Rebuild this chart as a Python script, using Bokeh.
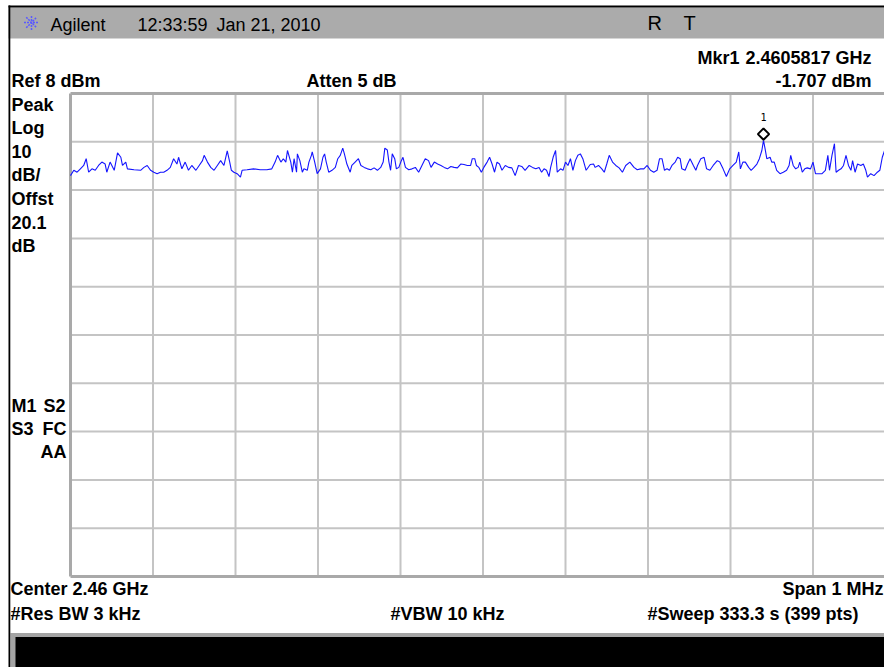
from bokeh.plotting import figure
from bokeh.models import Range1d
from bokeh.embed import file_html
from bokeh.resources import INLINE
from bokeh.core.properties import value

# ---------------- data ----------------
center_mhz = 2460.0
span_mhz = 1.0
ref_dbm = 8.0
db_per_div = 10.0
n_div = 10

# trace: frequency offset from sweep start (kHz) and level (dBm)
trace_khz = [
    0, 4, 8, 12, 16, 19, 22, 26, 30, 34, 38, 42, 44, 48, 53, 57, 61, 63, 67, 69,
    77, 85, 89, 93, 97, 101, 105, 109, 113, 117, 121, 125, 129, 131, 135, 139, 143, 147, 152, 156,
    160, 162, 166, 170, 174, 178, 182, 186, 190, 193, 195, 198, 202, 206, 208, 214, 222, 230, 238, 244,
    248, 251, 255, 258, 261, 263, 267, 269, 271, 274, 275, 278, 281, 283, 287, 289, 292, 293, 296, 299,
    303, 306, 308, 310, 313, 317, 321, 324, 327, 330, 332, 335, 339, 341, 345, 349, 352, 356, 360, 364,
    368, 372, 376, 379, 381, 384, 386, 388, 390, 393, 395, 398, 401, 403, 406, 410, 414, 418, 422, 426,
    430, 434, 437, 441, 445, 449, 453, 457, 461, 465, 469, 473, 477, 481, 485, 487, 490, 492, 495, 498,
    501, 505, 508, 511, 514, 517, 520, 523, 527, 531, 535, 539, 543, 547, 551, 556, 560, 564, 568, 571,
    574, 577, 580, 582, 585, 588, 590, 594, 597, 600, 603, 606, 609, 612, 615, 618, 621, 625, 630, 634,
    636, 640, 644, 647, 650, 653, 657, 661, 665, 669, 673, 678, 683, 687, 691, 695, 699, 703, 707, 711,
    714, 717, 720, 723, 726, 729, 733, 736, 739, 741, 745, 748, 751, 755, 758, 760, 764, 768, 771, 775,
    779, 784, 787, 791, 795, 799, 803, 807, 810, 812, 815, 818, 822, 825, 828, 832, 835, 838, 840, 842,
    844, 848, 850, 853, 856, 860, 864, 868, 871, 873, 876, 879, 882, 884, 887, 890, 893, 897, 900, 903,
    907, 911, 915, 918, 920, 923, 926, 928, 931, 934, 937, 940, 943, 946, 948, 951, 954, 958, 961, 964,
    966, 970, 974, 978, 981, 984, 987,
]
trace_dbm = [
    -9.0, -7.9, -8.3, -7.6, -6.9, -5.5, -8.3, -7.6, -7.9, -6.9, -6.2, -6.6, -8.3, -6.2, -7.9, -4.3, -5.2, -6.9, -6.2, -7.6,
    -7.8, -7.9, -7.3, -6.9, -7.9, -8.3, -8.6, -8.3, -8.3, -7.9, -7.3, -5.5, -6.6, -5.2, -7.6, -6.2, -7.9, -6.9, -7.9, -6.9,
    -5.9, -4.8, -6.2, -7.3, -7.9, -6.9, -5.9, -6.9, -3.9, -6.2, -7.9, -8.3, -8.6, -9.3, -7.9, -7.8, -7.6, -7.8, -7.8, -7.6,
    -6.2, -4.8, -6.2, -5.5, -6.2, -3.8, -6.2, -8.3, -5.5, -8.3, -4.5, -5.9, -8.3, -7.6, -7.9, -6.2, -4.8, -4.1, -6.2, -8.6,
    -7.6, -5.2, -4.5, -6.2, -8.3, -7.9, -7.3, -5.5, -4.8, -3.3, -4.5, -6.6, -8.3, -6.9, -6.2, -5.5, -6.9, -7.3, -7.6, -7.8,
    -7.4, -7.9, -7.3, -6.2, -3.3, -3.7, -6.2, -7.9, -4.5, -5.5, -7.6, -7.3, -5.9, -5.2, -7.3, -7.8, -7.6, -7.3, -8.3, -6.9,
    -5.5, -5.9, -7.3, -6.2, -6.6, -6.9, -7.3, -7.6, -7.1, -7.3, -7.4, -6.6, -6.7, -6.9, -6.9, -5.5, -5.5, -6.9, -7.3, -8.3,
    -7.3, -6.2, -5.2, -6.6, -8.3, -6.2, -6.6, -7.9, -6.9, -7.3, -7.4, -9.0, -6.9, -7.1, -7.9, -6.9, -7.3, -7.6, -7.3, -8.3,
    -7.6, -7.9, -9.2, -7.3, -5.2, -3.8, -8.3, -7.6, -7.9, -6.2, -6.9, -5.5, -7.9, -5.9, -4.8, -4.5, -5.5, -7.9, -6.7, -6.6,
    -7.3, -6.9, -7.6, -8.3, -6.6, -4.8, -6.2, -6.9, -7.4, -8.3, -6.9, -6.2, -7.3, -7.8, -7.6, -7.6, -6.9, -7.9, -8.3, -7.9,
    -5.5, -5.5, -7.9, -7.6, -7.9, -6.9, -6.2, -5.2, -5.5, -7.6, -7.9, -6.6, -5.5, -6.9, -7.9, -6.9, -5.5, -5.2, -7.6, -7.9,
    -6.9, -5.9, -6.2, -7.6, -9.2, -7.6, -6.9, -6.2, -4.1, -7.6, -6.2, -6.2, -7.3, -7.9, -7.4, -6.6, -5.5, -3.8, -1.707, -3.5,
    -5.5, -5.2, -6.2, -6.2, -7.9, -8.6, -8.3, -7.9, -6.9, -4.8, -6.9, -7.6, -7.3, -6.2, -8.3, -7.6, -7.4, -7.6, -6.2, -8.6,
    -8.6, -8.6, -7.9, -4.8, -7.9, -4.8, -2.4, -8.3, -7.9, -7.6, -6.9, -4.8, -6.9, -7.9, -5.9, -8.3, -6.6, -6.9, -6.6, -7.9,
    -9.3, -8.6, -9.0, -8.3, -7.9, -5.2, -3.7,
]

marker_khz = 840
marker_dbm = -1.707

header_left = ["Agilent", "12:33:59", "Jan 21, 2010"]
header_right = ["R", "T"]
top_info = ["Mkr1", "2.4605817 GHz", "-1.707 dBm", "Ref 8 dBm", "Atten 5 dB"]
side_labels = ["Peak", "Log", "10", "dB/", "Offst", "20.1", "dB"]
bottom_info = ["Center 2.46 GHz", "Span 1 MHz", "#Res BW 3 kHz", "#VBW 10 kHz", "#Sweep 333.3 s (399 pts)"]

# ---------------- layout (page pixels) ----------------
W, H = 884, 667
FRAME_L, FRAME_T = 70.0, 93.0
DIV_X, DIV_Y = 82.5, 48.3

f_start = center_mhz - span_mhz / 2
mhz_per_px = (span_mhz / n_div) / DIV_X
db_per_px = db_per_div / DIV_Y

p = figure(width=W, height=H, output_backend="svg", toolbar_location=None,
           x_range=Range1d(0, W), y_range=Range1d(H, 0),
           x_axis_location=None, y_axis_location=None, min_border=0)
p.grid.visible = False
p.outline_line_color = None
p.background_fill_color = "white"
p.border_fill_color = "white"

p.extra_x_ranges = {"freq": Range1d(f_start - FRAME_L * mhz_per_px,
                                    f_start + (W - FRAME_L) * mhz_per_px)}
p.extra_y_ranges = {"lvl": Range1d(ref_dbm - (H - FRAME_T) * db_per_px,
                                   ref_dbm + FRAME_T * db_per_px)}

# decorations
p.quad(left=8, right=W, top=7, bottom=38, fill_color="#ababab", line_color=None)
p.quad(left=8, right=W, top=5, bottom=7, fill_color="black", line_color=None)
p.quad(left=10, right=W, top=632.5, bottom=H, fill_color="#a4a4a4", line_color=None)
p.quad(left=15, right=W, top=636.5, bottom=H, fill_color="black", line_color=None)
p.quad(left=8, right=9.8, top=5, bottom=H, fill_color="black", line_color=None)

# grid
bottom_db = ref_dbm - n_div * db_per_div
f_end = f_start + span_mhz
vx = [f_start + i * span_mhz / n_div for i in range(1, n_div)]
hy = [ref_dbm - j * db_per_div for j in range(1, n_div)]
p.segment(x0=vx, x1=vx, y0=[ref_dbm] * len(vx), y1=[bottom_db] * len(vx),
          x_range_name="freq", y_range_name="lvl", line_color="#c4c4c4", line_width=2)
p.segment(x0=[f_start] * len(hy), x1=[f_end] * len(hy), y0=hy, y1=hy,
          x_range_name="freq", y_range_name="lvl", line_color="#c4c4c4", line_width=2)
p.segment(x0=[f_start, f_start, f_start], x1=[f_end, f_end, f_start],
          y0=[ref_dbm, bottom_db, ref_dbm], y1=[ref_dbm, bottom_db, bottom_db],
          x_range_name="freq", y_range_name="lvl", line_color="#a9a9a9", line_width=3)

# trace
freqs = [f_start + k / 1000.0 for k in trace_khz]
p.line(x=freqs, y=trace_dbm, x_range_name="freq", y_range_name="lvl",
       line_color="#1414ff", line_width=1.1)

# marker
mf = f_start + marker_khz / 1000.0
p.scatter(x=[mf], y=[marker_dbm + 1.3], marker="square", angle=0.785398, size=8,
          x_range_name="freq", y_range_name="lvl",
          fill_color="white", line_color="black", line_width=2)
p.text(x=[mf], y=[marker_dbm], text=["1"], x_range_name="freq", y_range_name="lvl",
       y_offset=-23, text_align="center", text_baseline="middle",
       text_font=value("DejaVu Sans Mono"), text_font_size="10px", text_color="black")

# logo
p.scatter(x=[31], y=[22], marker="asterisk", size=15, line_color="#5a5aff", line_width=1.5,
          line_dash="2 1")

F = value("Liberation Sans")

def txt(x, y, s, size="18px", bold=True, align="left"):
    p.text(x=[x], y=[y], text=[s], text_font=F, text_font_size=size,
           text_font_style="bold" if bold else "normal", text_align=align,
           text_baseline="middle", text_color="black")

# header
txt(50, 24, header_left[0], "18px", False)
txt(137, 24, header_left[1], "18px", False)
txt(216, 24, header_left[2], "18px", False)
txt(647, 22.5, header_right[0], "20px", False)
txt(683, 22.5, header_right[1], "20px", False)

# top info
txt(697, 57, top_info[0])
txt(871, 57, top_info[1], align="right")
txt(871, 80.5, top_info[2], align="right")
txt(11, 80.5, top_info[3])
txt(306, 80.5, top_info[4])

# side labels
for i, s in enumerate(side_labels):
    txt(11, 104 + i * 23.5, s)
txt(11, 405, "M1")
txt(65, 405, "S2", align="right")
txt(11, 428, "S3")
txt(66, 428, "FC", align="right")
txt(66, 451, "AA", align="right")

# bottom info
txt(10, 588.5, bottom_info[0])
txt(883, 588.5, bottom_info[1], align="right")
txt(10, 613.5, bottom_info[2])
txt(390, 613.5, bottom_info[3])
txt(647, 613.5, bottom_info[4])

open("out.html", "w").write(file_html(p, INLINE))
